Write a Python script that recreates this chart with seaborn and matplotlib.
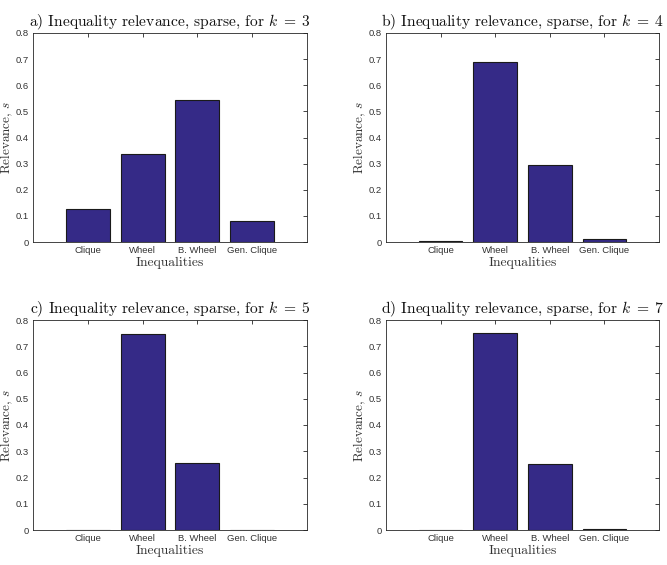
import matplotlib
matplotlib.use("Agg")
import matplotlib.pyplot as plt
import seaborn as sns
import pandas as pd

categories = ["Clique", "Wheel", "B. Wheel", "Gen. Clique"]
vals_k3 = [0.128, 0.337, 0.543, 0.080]
vals_k4 = [0.005, 0.690, 0.296, 0.013]
vals_k5 = [0.001, 0.745, 0.257, 0.001]
vals_k7 = [0.001, 0.749, 0.251, 0.002]
titles = [r"a) Inequality relevance, sparse, for $k\;=\;3$",
          r"b) Inequality relevance, sparse, for $k\;=\;4$",
          r"c) Inequality relevance, sparse, for $k\;=\;5$",
          r"d) Inequality relevance, sparse, for $k\;=\;7$"]
yticks = [0, 0.1, 0.2, 0.3, 0.4, 0.5, 0.6, 0.7, 0.8]

sns.set_theme(style="white")
plt.rcParams["mathtext.fontset"] = "cm"
plt.rcParams["axes.formatter.use_mathtext"] = True

fig = plt.figure(figsize=(6.67, 5.65), dpi=100)
W, H = 667, 565
boxes = [(33, 33, 307, 242), (386, 33, 659, 242), (33, 320, 307, 530), (386, 320, 659, 530)]
series = [vals_k3, vals_k4, vals_k5, vals_k7]
bar_color = "#352a87"
axis_grey = "#262626"

for (l, t, r, b), vals, title in zip(boxes, series, titles):
    ax = fig.add_axes([l / W, 1 - b / H, (r - l) / W, (b - t) / H])
    df = pd.DataFrame({"Inequality": categories, "Relevance": vals})
    sns.barplot(data=df, x="Inequality", y="Relevance", ax=ax, color=bar_color,
                saturation=1, width=0.8, edgecolor="#1a1a1a", linewidth=0.8)
    ax.set_xlim(-1, 4)
    ax.set_ylim(0, 0.8)
    ax.set_yticks(yticks)
    ax.set_yticklabels([f"{v:g}" for v in yticks])
    ax.tick_params(axis="both", which="both", direction="in", length=3, width=0.6,
                   top=True, right=True, labelsize=6.8, colors=axis_grey,
                   labelcolor="#333333", pad=3)
    for lab in ax.get_xticklabels() + ax.get_yticklabels():
        lab.set_fontfamily("Liberation Sans")
    for sp in ax.spines.values():
        sp.set_visible(True)
        sp.set_color(axis_grey)
        sp.set_linewidth(0.6)
    ax.set_title(title, fontfamily="cmr10", fontsize=11.2, pad=5, color="#111111")
    ax.set_xlabel("Inequalities", fontfamily="cmr10", fontsize=9.8, labelpad=1, color="#333333")
    ax.set_ylabel("Relevance, $s$", fontfamily="cmr10", fontsize=9.5, color="#333333")
    ax.yaxis.set_label_coords(-17.5 / (r - l), 0.5)

fig.savefig("out.png", dpi=100)
